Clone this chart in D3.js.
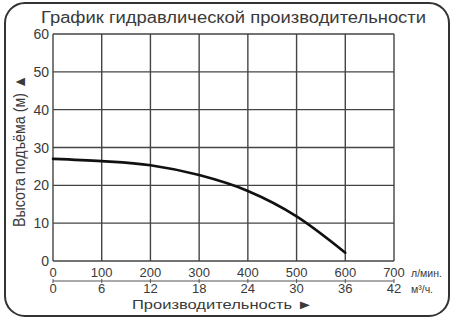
<!DOCTYPE html>
<html><head><meta charset="utf-8">
<script src="https://cdn.jsdelivr.net/npm/d3@7"></script>
<style>body{margin:0;background:#fff}svg{display:block}</style>
</head><body>
<svg id="c" width="456" height="322"></svg>
<script>
const title = "График гидравлической производительности";
const yTitle = "Высота подъёма (м) ▲";
const xTitle = "Производительность ►";
const flowLmin = [0, 100, 200, 300, 400, 500, 600];
const headM = [27, 26.4, 25.3, 22.7, 18.5, 11.8, 2.2];
const xTicksLmin = [0, 100, 200, 300, 400, 500, 600, 700];
const xTicksM3h = [0, 6, 12, 18, 24, 30, 36, 42];
const yTicks = [0, 10, 20, 30, 40, 50, 60];
const unitLmin = "л/мин.";
const unitM3h = "м³/ч.";

const svg = d3.select("#c");
const font = "Arial, 'Liberation Sans', sans-serif";
const ink = "#3a3a3a";

svg.append("rect").attr("x",5).attr("y",3).attr("width",444).attr("height",313)
  .attr("rx",20).attr("ry",20).attr("fill","none").attr("stroke","#333").attr("stroke-width",2);

const x = d3.scaleLinear().domain([0,700]).range([53,394]);
const xm = d3.scaleLinear().domain([0,42]).range([53,394]);
const y = d3.scaleLinear().domain([0,60]).range([261,34]);

svg.append("text").attr("x",41).attr("y",23)
  .attr("textLength",385).attr("lengthAdjust","spacingAndGlyphs")
  .attr("font-family",font).attr("font-size",16).attr("fill",ink).text(title);

// grid
const g = svg.append("g");
g.selectAll("line.v").data(xTicksLmin).join("line")
  .attr("x1",d=>x(d)).attr("x2",d=>x(d)).attr("y1",y(0)).attr("y2",y(60))
  .attr("stroke","#444").attr("stroke-width",1.4);
g.selectAll("line.h").data(yTicks).join("line")
  .attr("x1",x(0)).attr("x2",x(700)).attr("y1",d=>y(d)).attr("y2",d=>y(d))
  .attr("stroke","#444").attr("stroke-width",1.4);

// y labels
svg.selectAll("text.yl").data(yTicks).join("text")
  .attr("x",49).attr("y",d=>y(d)+5).attr("text-anchor","end")
  .attr("font-family",font).attr("font-size",14).attr("fill",ink).text(d=>d);

svg.append("text").attr("transform","translate(25,227) rotate(-90)")
  .attr("textLength",152).attr("lengthAdjust","spacingAndGlyphs")
  .attr("font-family",font).attr("font-size",16)
  .attr("fill",ink).text(yTitle);

// x labels row 1
svg.selectAll("text.x1").data(xTicksLmin).join("text")
  .attr("x",d=>x(d)).attr("y",277).attr("text-anchor","middle")
  .attr("font-family",font).attr("font-size",13).attr("fill",ink).text(d=>d);
svg.append("text").attr("x",411).attr("y",277).attr("font-family",font)
  .attr("font-size",10.5).attr("fill",ink).text(unitLmin);

// separating axis line with ticks
svg.append("line").attr("x1",x(0)).attr("x2",x(700)).attr("y1",281).attr("y2",281)
  .attr("stroke","#555").attr("stroke-width",1.2);
svg.selectAll("line.t").data(xTicksM3h).join("line")
  .attr("x1",d=>xm(d)).attr("x2",d=>xm(d)).attr("y1",279).attr("y2",283)
  .attr("stroke","#555").attr("stroke-width",1);

svg.selectAll("text.x2").data(xTicksM3h).join("text")
  .attr("x",d=>xm(d)).attr("y",293).attr("text-anchor","middle")
  .attr("font-family",font).attr("font-size",13).attr("fill",ink).text(d=>d);
svg.append("text").attr("x",411).attr("y",293).attr("font-family",font)
  .attr("font-size",10.5).attr("fill",ink).text(unitM3h);

svg.append("text").attr("x",132).attr("y",309)
  .attr("textLength",181).attr("lengthAdjust","spacingAndGlyphs")
  .attr("font-family",font).attr("font-size",13).attr("fill",ink).text(xTitle);

// curve
const line = d3.line().x((d,i)=>x(flowLmin[i])).y(d=>y(d)).curve(d3.curveMonotoneX);
svg.append("path").attr("d",line(headM)).attr("fill","none")
  .attr("stroke","#111").attr("stroke-width",2.6).attr("stroke-linecap","round");
</script>
</body></html>
